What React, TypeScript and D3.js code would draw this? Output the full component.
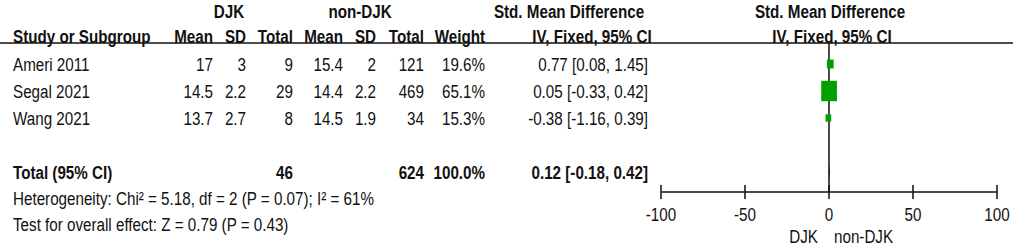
import React from "react";
import * as d3 from "d3";

const studies = ["Ameri 2011", "Segal 2021", "Wang 2021"];
const djkMean = [17, 14.5, 13.7];
const djkSD = [3, 2.2, 2.7];
const djkTotal = [9, 29, 8];
const nonMean = [15.4, 14.4, 14.5];
const nonSD = [2, 2.2, 1.9];
const nonTotal = [121, 469, 34];
const weights = [19.6, 65.1, 15.3];
const smd = [0.77, 0.05, -0.38];
const ciLow = [0.08, -0.33, -1.16];
const ciHigh = [1.45, 0.42, 0.39];
const totalDjk = 46;
const totalNon = 624;
const totalWeight = 100.0;
const totalSmd = 0.12;
const totalLow = -0.18;
const totalHigh = 0.42;
const axisTicks = [-100, -50, 0, 50, 100];
const heterogeneityText = "Heterogeneity: Chi\u00b2 = 5.18, df = 2 (P = 0.07); I\u00b2 = 61%";
const overallText = "Test for overall effect: Z = 0.79 (P = 0.43)";

const W = 1013;
const H = 247;
const FONT = "'Liberation Sans', Arial, sans-serif";
const SX = 0.8;
const GREEN = "#00a000";

const x = d3.scaleLinear().domain([-100, 100]).range([661, 997]);
const rowY = d3.scaleLinear().domain([0, 1]).range([64, 91]);
const yTotal = 172;
const yHet = 198;
const yTest = 224;
const yAxis = 192;
const yHeaderLine = 43;
const sizeScale = d3.scalePow().exponent(0.7).domain([0, 65.1]).range([0, 15.7]);

const fmtCI = (m: number, l: number, h: number) =>
  `${m.toFixed(2)} [${l.toFixed(2)}, ${h.toFixed(2)}]`;

const cols = {
  dMean: 213,
  dSD: 246,
  dTot: 293,
  nMean: 343,
  nSD: 376,
  nTot: 424,
  weight: 485,
  ci: 648,
};

function T({ x, y, anchor = "start", bold = false, children }: any) {
  return (
    <text
      transform={`translate(${x},${y}) scale(${SX},1)`}
      dy="0.35em"
      textAnchor={anchor}
      fontWeight={bold ? "bold" : "normal"}
      fontFamily={FONT}
      fontSize={19}
      fill="#111"
    >
      {children}
    </text>
  );
}

export default function App() {
  const diamond = d3.line()([
    [x(totalLow), yTotal],
    [x(totalSmd), yTotal - 8],
    [x(totalHigh), yTotal],
    [x(totalSmd), yTotal + 8],
  ]) + "Z";

  return (
    <svg
      width={W}
      height={H}
      style={{ position: "absolute", left: 0, top: 0, background: "#fff" }}
    >
      {/* headers */}
      <T x={229} y={11} anchor="middle" bold>DJK</T>
      <T x={360} y={11} anchor="middle" bold>non-DJK</T>
      <T x={569} y={11} anchor="middle" bold>Std. Mean Difference</T>
      <T x={830} y={11} anchor="middle" bold>Std. Mean Difference</T>
      <T x={13} y={36} bold>Study or Subgroup</T>
      <T x={cols.dMean} y={36} anchor="end" bold>Mean</T>
      <T x={cols.dSD} y={36} anchor="end" bold>SD</T>
      <T x={cols.dTot} y={36} anchor="end" bold>Total</T>
      <T x={cols.nMean} y={36} anchor="end" bold>Mean</T>
      <T x={cols.nSD} y={36} anchor="end" bold>SD</T>
      <T x={cols.nTot} y={36} anchor="end" bold>Total</T>
      <T x={cols.weight} y={36} anchor="end" bold>Weight</T>
      <T x={592} y={36} anchor="middle" bold>IV, Fixed, 95% CI</T>
      <T x={832} y={36} anchor="middle" bold>IV, Fixed, 95% CI</T>
      <line x1={0} x2={W} y1={yHeaderLine} y2={yHeaderLine} stroke="#111" strokeWidth={1.5} />

      {/* zero line */}
      <line x1={x(0)} x2={x(0)} y1={yHeaderLine} y2={yAxis} stroke="#111" strokeWidth={1.5} />

      {/* study rows */}
      {studies.map((s, i) => {
        const y = rowY(i);
        const w = sizeScale(weights[i]);
        const h = w * 1.3;
        return (
          <g key={s}>
            <T x={13} y={y}>{s}</T>
            <T x={cols.dMean} y={y} anchor="end">{String(djkMean[i])}</T>
            <T x={cols.dSD} y={y} anchor="end">{String(djkSD[i])}</T>
            <T x={cols.dTot} y={y} anchor="end">{String(djkTotal[i])}</T>
            <T x={cols.nMean} y={y} anchor="end">{String(nonMean[i])}</T>
            <T x={cols.nSD} y={y} anchor="end">{String(nonSD[i])}</T>
            <T x={cols.nTot} y={y} anchor="end">{String(nonTotal[i])}</T>
            <T x={cols.weight} y={y} anchor="end">{weights[i].toFixed(1) + "%"}</T>
            <T x={cols.ci} y={y} anchor="end">{fmtCI(smd[i], ciLow[i], ciHigh[i])}</T>
            <line x1={x(ciLow[i])} x2={x(ciHigh[i])} y1={y} y2={y} stroke="#111" strokeWidth={1} />
            <rect x={x(smd[i]) - w / 2} y={y - h / 2} width={w} height={h} fill={GREEN} />
          </g>
        );
      })}

      {/* total row */}
      <T x={13} y={yTotal} bold>Total (95% CI)</T>
      <T x={cols.dTot} y={yTotal} anchor="end" bold>{String(totalDjk)}</T>
      <T x={cols.nTot} y={yTotal} anchor="end" bold>{String(totalNon)}</T>
      <T x={cols.weight} y={yTotal} anchor="end" bold>{totalWeight.toFixed(1) + "%"}</T>
      <T x={cols.ci} y={yTotal} anchor="end" bold>{fmtCI(totalSmd, totalLow, totalHigh)}</T>
      <path d={diamond} fill="#111" />
      <T x={13} y={yHet}>{heterogeneityText}</T>
      <T x={13} y={yTest}>{overallText}</T>

      {/* axis */}
      <line x1={x(-100)} x2={x(100)} y1={yAxis} y2={yAxis} stroke="#111" strokeWidth={1.5} />
      {axisTicks.map((t) => (
        <g key={t}>
          <line x1={x(t)} x2={x(t)} y1={yAxis - 7} y2={yAxis + 7} stroke="#111" strokeWidth={1.5} />
          <T x={x(t)} y={214} anchor="middle">{String(t)}</T>
        </g>
      ))}
      <T x={818} y={236} anchor="end">DJK</T>
      <T x={834} y={236}>non-DJK</T>
    </svg>
  );
}
